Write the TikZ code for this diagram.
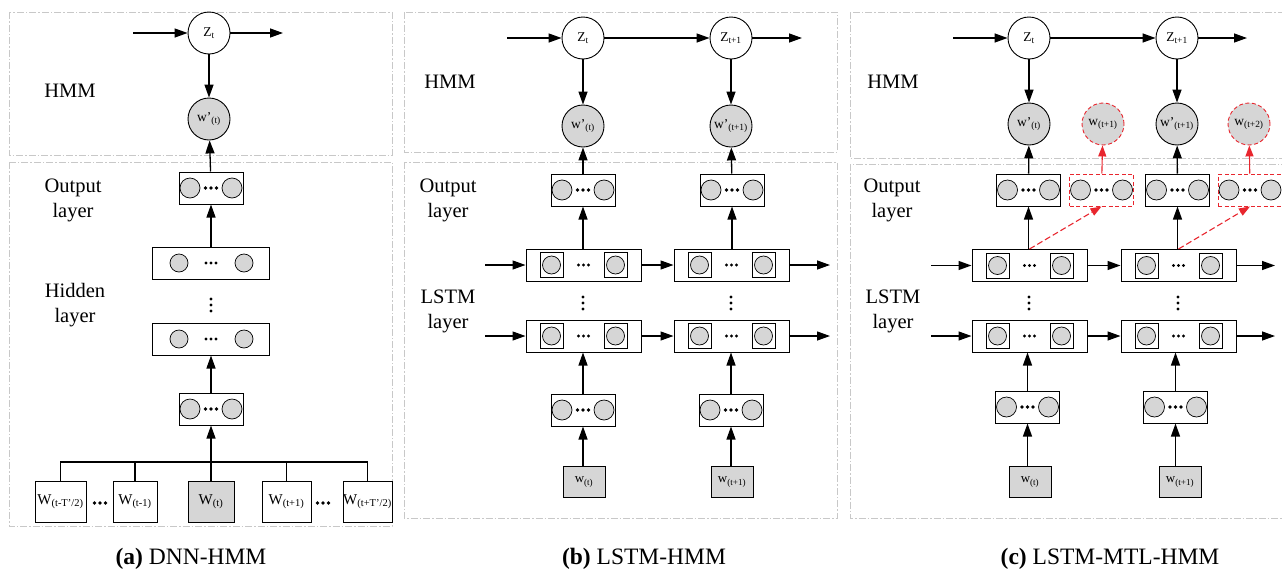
\documentclass[tikz,border=0pt]{standalone}
\usepackage{fontspec}
\setmainfont{Liberation Serif}
\usetikzlibrary{arrows.meta}
\definecolor{gfill}{HTML}{D6D6D6}
\definecolor{bord}{HTML}{C8C8C8}
\definecolor{redd}{HTML}{E8262E}
\tikzset{
 panel/.style={draw=bord, line width=0.8pt, dash pattern=on 7pt off 2pt on 1.5pt off 2pt},
 arr/.style={line width=1.3pt, -{Triangle[length=13pt,width=9pt]}},
 rarr/.style={draw=redd, line width=1.1pt, -{Triangle[length=11pt,width=8pt]}, redd},
 rdarr/.style={rarr, dash pattern=on 6pt off 3pt},
 state/.style={circle, draw, line width=0.9pt, minimum size=42pt, inner sep=0pt, font=\fontsize{13.5}{13.5}\selectfont},
 obs/.style={state, fill=gfill},
 robs/.style={obs, draw=redd, dash pattern=on 4pt off 2.5pt},
 nbx/.style={draw, line width=1pt, minimum width=64pt, minimum height=32pt, inner sep=0pt, fill=white},
 rnbx/.style={draw=redd, dash pattern=on 4pt off 2.5pt},
 wbx/.style={nbx, minimum width=117pt},
 lbx/.style={nbx, minimum width=115pt},
 cell/.style={circle, draw, fill=gfill, line width=0.7pt, minimum size=20pt, inner sep=0pt},
 scell/.style={cell, minimum size=18pt},
 sq/.style={draw, line width=0.8pt, minimum width=23pt, minimum height=25pt, inner sep=0pt},
 lbl/.style={font=\fontsize{20.5}{25}\selectfont, align=center},
 capt/.style={font=\fontsize{23.5}{28}\selectfont, anchor=base},
 dot/.style={circle, fill, inner sep=0pt, minimum size=3.6pt},
 sdot/.style={circle, fill, inner sep=0pt, minimum size=3.2pt},
 wbox/.style={draw, line width=0.9pt, minimum height=41pt, inner sep=0pt, font=\fontsize{15}{15}\selectfont},
 xbox/.style={draw, line width=0.9pt, fill=gfill, minimum width=42pt, minimum height=31pt, inner sep=0pt, font=\fontsize{13}{13}\selectfont},
}
% narrow box with two circles
\newcommand\nbox[4][]{%
 \node[nbx,#1] (#2) at (#3,#4) {};
 \node[cell] (#2-l) at ([xshift=-21pt]#2.center) {};
 \node[cell] (#2-r) at ([xshift=21pt]#2.center) {};
 \node[dot] at ([xshift=-5.5pt]#2.center) {};
 \node[dot] at (#2.center) {};
 \node[dot] at ([xshift=5.5pt]#2.center) {};
}
% wide hidden box
\newcommand\wbox[3]{%
 \node[wbx] (#1) at (#2,#3) {};
 \node[scell] (#1-l) at ([xshift=-32pt]#1.center) {};
 \node[scell] (#1-r) at ([xshift=33pt]#1.center) {};
 \node[sdot] at ([xshift=-5pt]#1.center) {};
 \node[sdot] at (#1.center) {};
 \node[sdot] at ([xshift=5pt]#1.center) {};
}
% LSTM box
\newcommand\lbox[3]{%
 \node[lbx] (#1) at (#2,#3) {};
 \node[sq] (#1-sl) at ([xshift=-32pt]#1.center) {};
 \node[sq] (#1-sr) at ([xshift=32pt]#1.center) {};
 \node[scell] at (#1-sl) {};
 \node[scell] at (#1-sr) {};
 \node[sdot] at ([xshift=-5pt]#1.center) {};
 \node[sdot] at (#1.center) {};
 \node[sdot] at ([xshift=5pt]#1.center) {};
}
\newcommand\vdts[2]{%
 \node[sdot] at (#1,#2-6) {};
 \node[sdot] at (#1,#2) {};
 \node[sdot] at (#1,#2+6) {};
}
\begin{document}
\begin{tikzpicture}[x=1pt,y=-1pt]
\useasboundingbox (0,0) rectangle (1282,568);
%================ panel (a)
\draw[panel] (9,12) rectangle (392,155);
\draw[panel] (9,162) rectangle (392,526);
\node[state] (Za) at (209,33) {Z\textsubscript{t}};
\node[obs] (wa) at (209,119) {w'\textsubscript{(t)}};
\coordinate (ina) at (133,33);
\coordinate (outa) at (283,33);
\draw[arr] (ina) -- (Za);
\draw[arr] (Za) -- (outa);
\draw[arr] (Za) -- (wa);
\node[lbl] (hmma) at (70,91) {HMM};
\node[lbl] (outla) at (73,200) {Output\\layer};
\node[lbl] (hidla) at (75,305) {Hidden\\layer};
\nbox{oa}{211}{188}
\wbox{ha1}{211}{263}
\vdts{211}{305}
\wbox{ha2}{211}{339}
\nbox{ia}{211}{409}
\draw[arr] (oa) -- (wa);
\draw[arr] (ha1) -- (oa);
\draw[arr] (ia) -- (ha2);
\node[wbox, minimum width=51pt] (a1) at (60.5,501.5) {W\textsubscript{(t-T'/2)}};
\node[wbox, minimum width=44pt] (a2) at (135,501.5) {W\textsubscript{(t-1)}};
\node[wbox, minimum width=46pt, fill=gfill] (a3) at (211,501.5) {W\textsubscript{(t)}};
\node[wbox, minimum width=49pt] (a4) at (286.5,501.5) {W\textsubscript{(t+1)}};
\node[wbox, minimum width=49pt] (a5) at (367.5,501.5) {W\textsubscript{(t+T'/2)}};
\node[dot] at (94.5,503) {};
\node[dot] at (100,503) {};
\node[dot] at (105.5,503) {};
\node[dot] at (317.5,503) {};
\node[dot] at (323,503) {};
\node[dot] at (328.5,503) {};
\coordinate (bus) at (211,462);
\draw[line width=1.1pt] (a1.north) -- (a1.north |- bus) -- (a5.north |- bus) -- (a5.north);
\draw[line width=1.1pt] (a2.north) -- (a2.north |- bus);
\draw[line width=1.1pt] (a4.north) -- (a4.north |- bus);
\draw[arr] (a3) -- (ia);
\node[capt] (capa) at (191,564) {\textbf{(a)} DNN-HMM};
%================ panel (b)
\draw[panel] (404,12) rectangle (837,152);
\draw[panel] (404,162) rectangle (837,518);
\node[state] (Zb1) at (583,38) {Z\textsubscript{t}};
\node[state] (Zb2) at (731,38) {Z\textsubscript{t+1}};
\node[obs] (wb1) at (583,126) {w'\textsubscript{(t)}};
\node[obs] (wb2) at (731,126) {w'\textsubscript{(t+1)}};
\coordinate (inb) at (507,38);
\coordinate (outb) at (802,38);
\draw[arr] (inb) -- (Zb1);
\draw[arr] (Zb1) -- (Zb2);
\draw[arr] (Zb2) -- (outb);
\draw[arr] (Zb1) -- (wb1);
\draw[arr] (Zb2) -- (wb2);
\node[lbl] (hmmb) at (450,82) {HMM};
\node[lbl] (outlb) at (448,200) {Output\\layer};
\node[lbl] (lstmb) at (448,311) {LSTM\\layer};
\nbox{ob1}{583}{190}
\nbox{ob2}{732}{190}
\lbox{lb1}{583.5}{265}
\lbox{lb2}{731.5}{265}
\vdts{583}{303}
\vdts{731}{303}
\lbox{lc1}{583.5}{336}
\lbox{lc2}{731.5}{336}
\nbox{ib1}{583}{410}
\nbox{ib2}{731}{410}
\node[xbox] (xb1) at (584,482) {w\textsubscript{(t)}};
\node[xbox] (xb2) at (732,482) {w\textsubscript{(t+1)}};
\coordinate (inb1) at (485,265);
\coordinate (outb1) at (830,265);
\coordinate (inb2) at (485,336);
\coordinate (outb2) at (830,336);
\draw[arr] (inb1) -- (lb1);
\draw[arr] (lb1) -- (lb2);
\draw[arr] (lb2) -- (outb1);
\draw[arr] (inb2) -- (lc1);
\draw[arr] (lc1) -- (lc2);
\draw[arr] (lc2) -- (outb2);
\draw[arr] (ob1) -- (wb1);
\draw[arr] (ob2) -- (wb2);
\draw[arr] (lb1.north -| ob1) -- (ob1);
\draw[arr] (lb2.north -| ob2) -- (ob2);
\draw[arr] (ib1) -- (ib1 |- lc1.south);
\draw[arr] (ib2) -- (ib2 |- lc2.south);
\draw[arr] (xb1.north -| ib1) -- (ib1);
\draw[arr] (xb2.north -| ib2) -- (ib2);
\node[capt] (capb) at (644,564) {\textbf{(b)} LSTM-HMM};
%================ panel (c)
\draw[panel] (850,12) rectangle (1290,158);
\draw[panel] (850,164) rectangle (1290,518);
\node[state] (Zc1) at (1029,38) {Z\textsubscript{t}};
\node[state] (Zc2) at (1177,38) {Z\textsubscript{t+1}};
\node[obs] (wc1) at (1029,124) {w'\textsubscript{(t)}};
\node[robs] (rc1) at (1103,124) {w\textsubscript{(t+1)}};
\node[obs] (wc2) at (1177,124) {w'\textsubscript{(t+1)}};
\node[robs] (rc2) at (1249,124) {w\textsubscript{(t+2)}};
\coordinate (inc) at (953,38);
\coordinate (outc) at (1247,38);
\draw[arr] (inc) -- (Zc1);
\draw[arr] (Zc1) -- (Zc2);
\draw[arr] (Zc2) -- (outc);
\draw[arr] (Zc1) -- (wc1);
\draw[arr] (Zc2) -- (wc2);
\node[lbl] (hmmc) at (893,82) {HMM};
\node[lbl] (outlc) at (892,200) {Output\\layer};
\node[lbl] (lstmc) at (893,311) {LSTM\\layer};
\nbox{oc1}{1028.5}{190}
\nbox[rnbx]{roc1}{1101.5}{190}
\nbox{oc2}{1177.5}{190}
\nbox[rnbx]{roc2}{1250}{190}
\lbox{lcc1}{1029.5}{265.5}
\lbox{lcc2}{1178.5}{265.5}
\vdts{1029}{303}
\vdts{1178}{303}
\lbox{ldc1}{1029.5}{336}
\lbox{ldc2}{1178.5}{336}
\nbox{icc1}{1027.5}{407}
\nbox{icc2}{1175.5}{407}
\node[xbox] (xc1) at (1030,482) {w\textsubscript{(t)}};
\node[xbox] (xc2) at (1180,482) {w\textsubscript{(t+1)}};
\coordinate (inc1) at (931,265.5);
\coordinate (outc1) at (1275,265.5);
\coordinate (inc2) at (931,336);
\coordinate (outc2) at (1275,336);
\draw[arr] (inc1) -- (lcc1);
\draw[arr] (lcc1) -- (lcc2);
\draw[arr] (lcc2) -- (outc1);
\draw[arr] (inc2) -- (ldc1);
\draw[arr] (ldc1) -- (ldc2);
\draw[arr] (ldc2) -- (outc2);
\draw[arr] (oc1) -- (wc1);
\draw[arr] (oc2) -- (wc2);
\draw[rarr] (roc1) -- (rc1);
\draw[rarr] (roc2) -- (rc2);
\draw[arr] (lcc1.north -| oc1) -- (oc1);
\draw[arr] (lcc2.north -| oc2) -- (oc2);
\draw[rdarr] (lcc1.north) -- (roc1.south);
\draw[rdarr] (lcc2.north) -- (roc2.south);
\draw[arr] (icc1) -- (icc1 |- ldc1.south);
\draw[arr] (icc2) -- (icc2 |- ldc2.south);
\draw[arr] (xc1.north -| icc1) -- (icc1);
\draw[arr] (xc2.north -| icc2) -- (icc2);
\node[capt] (capc) at (1110,564) {\textbf{(c)} LSTM-MTL-HMM};
\end{tikzpicture}
\end{document}
